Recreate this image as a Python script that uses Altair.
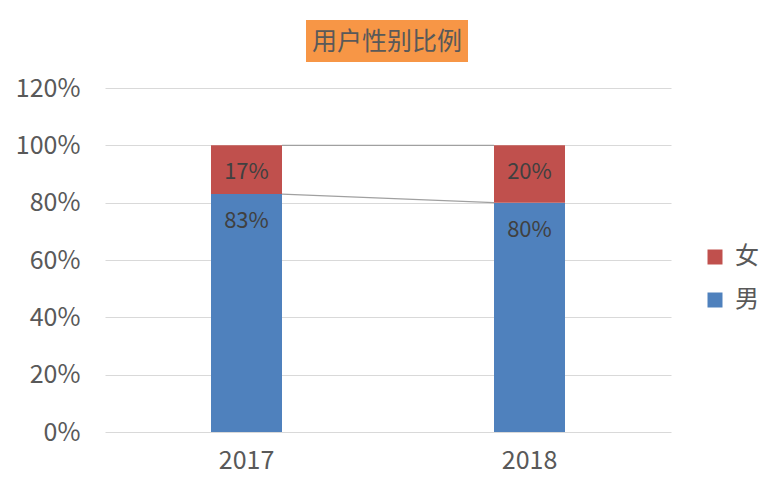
import altair as alt
import pandas as pd

years = ["2017", "2018"]
male = [0.83, 0.80]
female = [0.17, 0.20]
series = ["男", "女"]
legend_order = ["女", "男"]
colors = {"男": "#4F81BD", "女": "#C0504D"}
y_ticks = [0, 0.2, 0.4, 0.6, 0.8, 1.0, 1.2]
title_text = "用户性别比例"

rows = []
for i, yr in enumerate(years):
    start = 0.0
    for s, vals in zip(series, [male, female]):
        v = vals[i]
        rows.append({"year": yr, "series": s, "value": v, "start": start, "end": start + v,
                     "label": f"{round(v*100)}%"})
        start += v
df = pd.DataFrame(rows)

conn = []
for s in series:
    a = df[(df.year == years[0]) & (df.series == s)].iloc[0]
    b = df[(df.year == years[1]) & (df.series == s)].iloc[0]
    conn.append({"from": years[0], "to": years[1], "y1": a["end"], "y2": b["end"]})
conn = pd.DataFrame(conn)

FONT = "Noto Sans CJK SC"
W, H = 566, 344

xscale = alt.Scale(domain=years, paddingInner=0, paddingOuter=0)
yscale = alt.Scale(domain=[0, 1.2], nice=False)

xaxis = alt.Axis(title=None, labelAngle=0, domain=False, ticks=False, grid=False,
                 labelFont=FONT, labelFontSize=25, labelColor="#595959", labelPadding=16)

bars = alt.Chart(df).mark_bar(size=71).encode(
    x=alt.X("year:N", scale=xscale, sort=years, axis=xaxis),
    y=alt.Y("start:Q", scale=yscale,
            axis=alt.Axis(title=None, values=y_ticks, format=".0%", domain=False, ticks=False,
                          grid=True, gridColor="#d9d9d9", gridWidth=1,
                          labelFont=FONT, labelFontSize=25, labelColor="#595959", labelPadding=25)),
    y2="end:Q",
    color=alt.Color("series:N",
                    scale=alt.Scale(domain=legend_order, range=[colors[s] for s in legend_order]),
                    legend=alt.Legend(title=None, orient="none", legendX=598, legendY=157,
                                      symbolType="square", symbolSize=225, symbolStrokeWidth=0,
                                      labelFont=FONT, labelFontSize=24, labelColor="#595959",
                                      rowPadding=19, labelOffset=8)),
)

lines = alt.Chart(conn).mark_rule(color="#a0a0a0", strokeWidth=1.2, xOffset=35.5, x2Offset=-35.5).encode(
    x=alt.X("from:N", scale=xscale, axis=xaxis),
    x2="to:N",
    y=alt.Y("y1:Q", scale=yscale),
    y2="y2:Q",
)

labels = alt.Chart(df).mark_text(font=FONT, fontSize=22, color="#404040", dy=27, baseline="middle").encode(
    x=alt.X("year:N", scale=xscale, axis=xaxis),
    y=alt.Y("end:Q", scale=yscale),
    text="label:N",
)

title_bg = alt.Chart(alt.Data(values=[{}])).mark_rect(color="#F79646").encode(
    x=alt.value(201), x2=alt.value(363), y=alt.value(-68), y2=alt.value(-26)
)
title_tx = alt.Chart(alt.Data(values=[{}])).mark_text(
    text=title_text, font=FONT, fontSize=25, color="#595959", align="center", baseline="middle"
).encode(x=alt.value(282), y=alt.value(-46))

chart = alt.layer(bars, lines, labels, title_bg, title_tx).properties(
    width=W, height=H,
    autosize=alt.AutoSizeParams(type="none"),
    padding={"left": 97, "top": 80, "right": 90, "bottom": 56},
).configure(background="white").configure_view(stroke=None)

chart.save("out.html", embed_options={"renderer": "svg", "actions": False})
